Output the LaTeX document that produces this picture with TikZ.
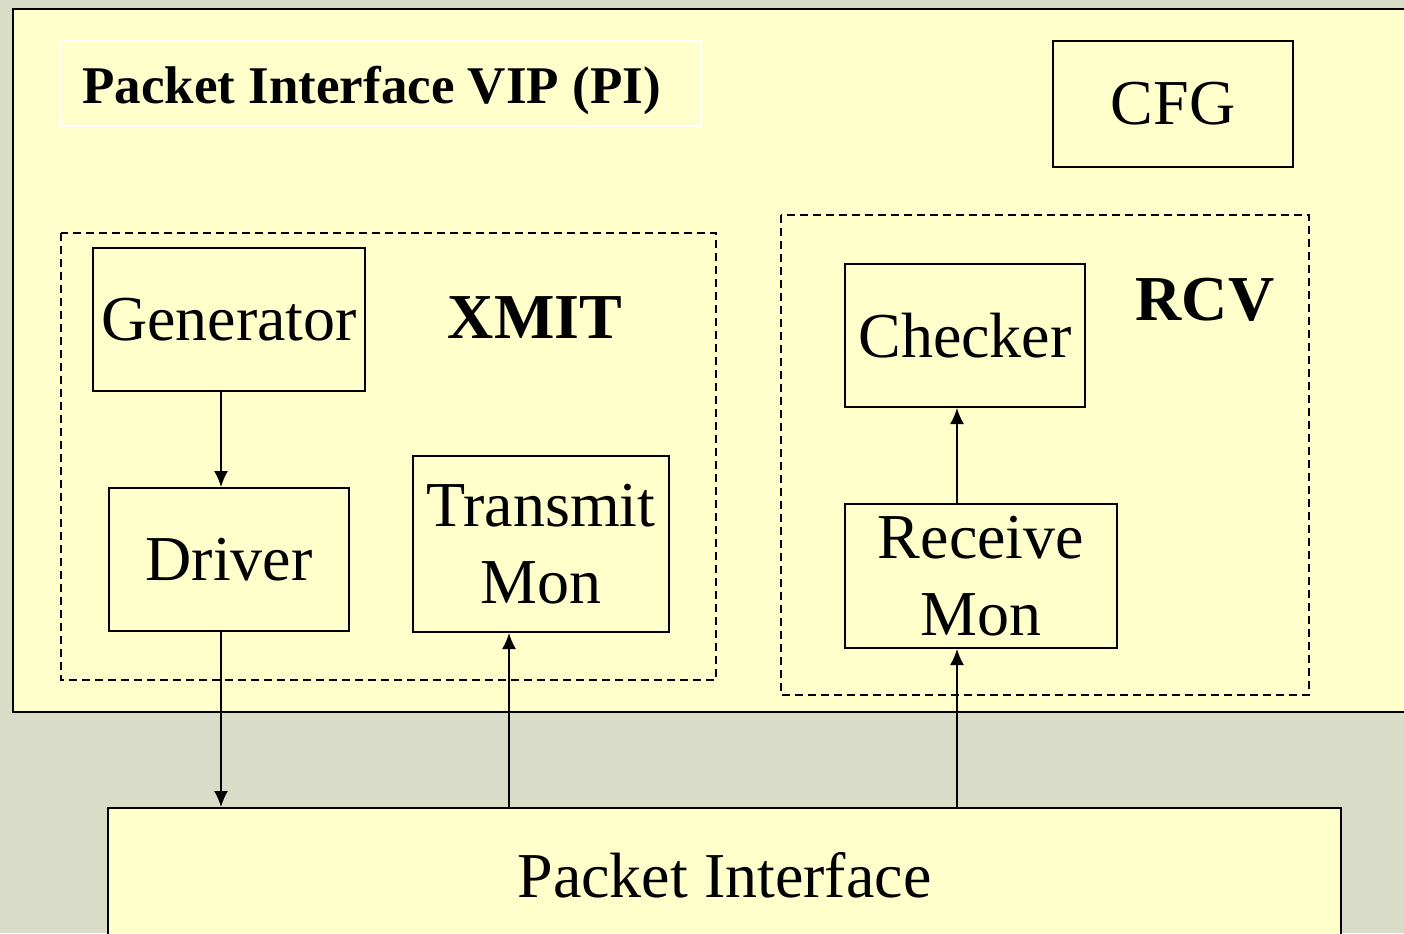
\documentclass[tikz,border=0pt]{standalone}
\usepackage{fontspec}
\setmainfont{Liberation Serif}
\usetikzlibrary{arrows.meta}
\definecolor{bgc}{HTML}{D9DDC8}
\definecolor{boxc}{HTML}{FFFFCC}
\begin{document}
\begin{tikzpicture}[x=0.5pt,y=-0.5pt,
  box/.style={draw=black,line width=1pt,fill=boxc,inner sep=0pt,align=center,
    font=\fontsize{32pt}{38.5pt}\selectfont},
  grp/.style={draw=black,line width=0.8pt,dash pattern=on 4pt off 2.5pt},
  lbl/.style={font=\fontsize{32pt}{38.5pt}\selectfont\bfseries,anchor=base,inner sep=0pt},
  conn/.style={line width=0.9pt,-{Latex[length=8pt,width=7pt]}}]
\useasboundingbox (0,0) rectangle (1404,933);
\fill[bgc] (0,0) rectangle (1404,933);
% outer VIP box
\draw[line width=1.2pt,fill=boxc] (13,9) rectangle (1420,712);
% title
\draw[white,line width=1pt] (60,41) rectangle (701,126);
\node[anchor=base west,inner sep=0pt,font=\fontsize{26.5pt}{32pt}\selectfont\bfseries] (title) at (82,103) {Packet Interface VIP (PI)};
% CFG
\node[box,minimum width=120pt,minimum height=63pt] (cfg) at (1173,104) {CFG};
% groups
\draw[grp] (61,233) rectangle (716,680);
\draw[grp] (781,215) rectangle (1309,695);
\node[lbl] (xmit) at (535,338) {XMIT};
\node[lbl] (rcv) at (1205,320) {RCV};
% blocks
\node[box,minimum width=136pt,minimum height=71.5pt] (gen) at (229,319.5) {Generator};
\node[box,minimum width=120pt,minimum height=71.5pt] (drv) at (229,559.5) {Driver};
\node[box,minimum width=128pt,minimum height=88pt] (tm) at (541,544) {Transmit\\Mon};
\node[box,minimum width=120pt,minimum height=71.5pt] (chk) at (965,335.5) {Checker};
\node[box,minimum width=136pt,minimum height=72pt] (rm) at (981,576) {Receive\\Mon};
\node[box,minimum width=616.5pt,minimum height=67pt] (pi) at (724.5,875) {Packet Interface};
% arrow x positions
\coordinate (ax1) at (221,0);
\coordinate (ax2) at (509,0);
\coordinate (ax3) at (957,0);
% connectors
\draw[conn] (gen.south -| ax1) -- (drv.north -| ax1);
\draw[conn] (drv.south -| ax1) -- (pi.north -| ax1);
\draw[conn] (pi.north -| ax2) -- (tm.south -| ax2);
\draw[conn] (pi.north -| ax3) -- (rm.south -| ax3);
\draw[conn] (rm.north -| ax3) -- (chk.south -| ax3);
\end{tikzpicture}
\end{document}
